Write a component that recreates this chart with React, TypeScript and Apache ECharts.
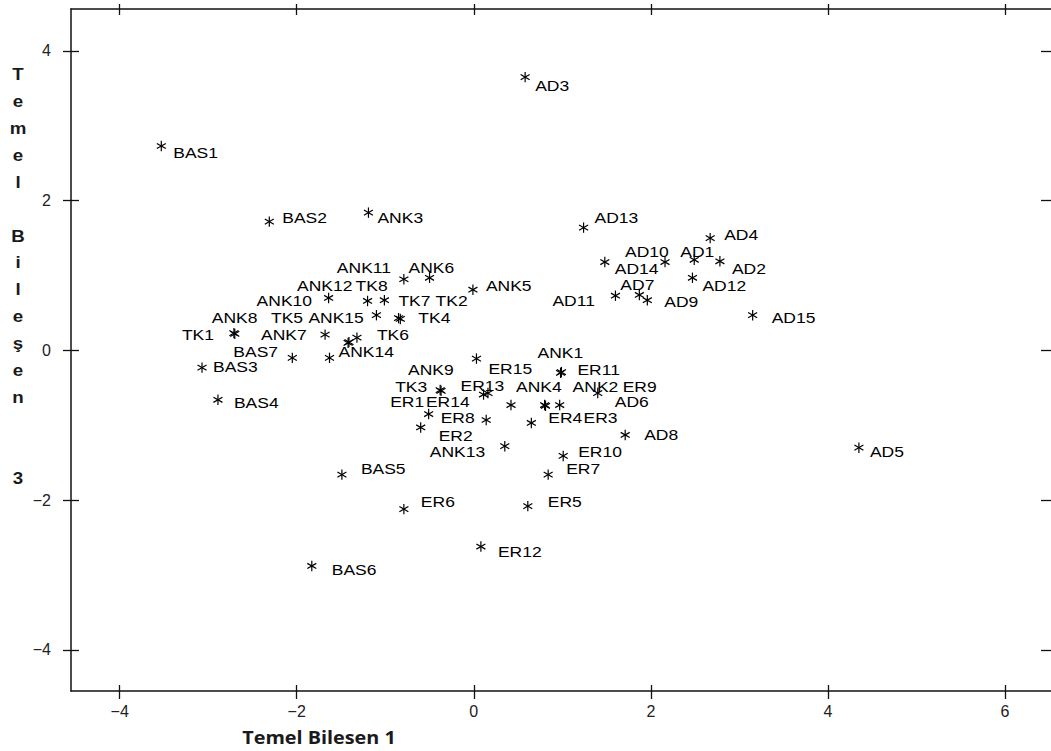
import React, { useEffect, useRef } from "react";
import * as echarts from "echarts";

// ---- data ----
const pointNames = [
  "BAS1", "BAS2", "BAS3", "BAS4", "BAS5", "BAS6", "BAS7",
  "TK1", "TK2", "TK3", "TK4", "TK5", "TK6", "TK7", "TK8",
  "ANK1", "ANK2", "ANK3", "ANK4", "ANK5", "ANK6", "ANK7", "ANK8", "ANK9", "ANK10", "ANK11", "ANK12", "ANK13", "ANK14", "ANK15",
  "AD1", "AD2", "AD3", "AD4", "AD5", "AD6", "AD7", "AD8", "AD9", "AD10", "AD11", "AD12", "AD13", "AD14", "AD15",
  "ER1", "ER2", "ER3", "ER4", "ER5", "ER6", "ER7", "ER8", "ER9", "ER10", "ER11", "ER12", "ER13", "ER14", "ER15",
];

// Temel Bilesen 1
const pc1 = [
  -3.53, -2.31, -3.07, -2.89, -1.49, -1.83, -2.05,
  -2.71, -0.85, -0.38, -0.83, -1.41, -1.32, -1.01, -1.20,
  0.98, 0.80, -1.19, 0.42, -0.01, -0.50, -1.68, -2.70, -0.37, -1.64, -0.79, -1.42, 0.35, -1.63, -1.10,
  2.49, 2.78, 0.58, 2.67, 4.35, 1.40, 1.87, 1.71, 1.96, 2.16, 1.60, 2.47, 1.24, 1.48, 3.15,
  0.14, -0.60, 0.81, 0.65, 0.61, -0.79, 0.84, -0.51, 0.97, 1.01, 0.99, 0.08, 0.11, 0.16, 0.03,
];

// Temel Bileşen 3
const pc3 = [
  2.73, 1.72, -0.23, -0.66, -1.66, -2.88, -0.10,
  0.23, 0.43, -0.53, 0.42, 0.11, 0.17, 0.67, 0.66,
  -0.30, -0.73, 1.84, -0.73, 0.81, 0.97, 0.21, 0.22, -0.54, 0.70, 0.95, 0.10, -1.28, -0.10, 0.47,
  1.21, 1.19, 3.65, 1.50, -1.30, -0.57, 0.74, -1.13, 0.67, 1.18, 0.73, 0.97, 1.64, 1.18, 0.47,
  -0.93, -1.03, -0.74, -0.97, -2.08, -2.12, -1.66, -0.85, -0.73, -1.41, -0.29, -2.62, -0.59, -0.57, -0.11,
];

const xTicks = [-4, -2, 0, 2, 4, 6];
const yTicks = [-4, -2, 0, 2, 4];

// label placement (pixel offsets from each marker), style only
const labelDx = [
  12, 13, 11, 16, 19, 20, -59,
  -52, 37, -45, 18, -78, 20, 14, -12,
  -23, 28, 9, 5, 13, -21, -64, -23, -33, -72, -67, -51, -75, 9, -68,
  -14, 12, 10, 14, 11, 17, -19, 19, 17, -40, -63, 10, 11, 10, 19,
  -96, 18, 38, 17, 20, 17, 18, 12, 63, 15, 16, 17, -23, -62, 12,
];
const labelDy = [
  7, -3, 0, 3, -6, 4, -6,
  2, -17, -3, -1, -24, -3, 1, -15,
  -20, -18, 6, -18, -4, -10, 0, -16, -21, 3, -11, -57, 6, -6, 3,
  -8, 8, 9, -3, 4, 9, -10, 0, 2, -10, 5, 8, -9, 7, 3,
  -18, 9, 12, -5, -4, -7, -6, 4, -18, -4, -2, 6, -8, 9, 11,
];

const X_MIN = -4.55;
const X_MAX = 6.52;
const Y_MIN = -4.55;
const Y_MAX = 4.56;

const fmt = (v: number) => (v < 0 ? "\u2212" + Math.abs(v) : String(v));
const AX = "#111";
const tickFont = '"Liberation Sans", Arial, sans-serif';

function xAxisDef(position: string, inside: boolean, len: number, showLine: boolean, showLabel: boolean) {
  return {
    type: "value",
    position,
    min: X_MIN,
    max: X_MAX,
    splitLine: { show: false },
    axisLine: { show: showLine, onZero: false, lineStyle: { color: AX, width: 1.5 } },
    axisTick: { show: true, inside, length: len, customValues: xTicks, lineStyle: { color: AX, width: 1.3 } },
    axisLabel: {
      show: showLabel,
      customValues: xTicks,
      formatter: fmt,
      margin: 12,
      fontSize: 16,
      color: "#222",
      fontFamily: tickFont,
    },
  };
}

function yAxisDef(position: string, inside: boolean, len: number, showLine: boolean, showLabel: boolean) {
  return {
    type: "value",
    position,
    min: Y_MIN,
    max: Y_MAX,
    splitLine: { show: false },
    axisLine: { show: showLine, onZero: false, lineStyle: { color: AX, width: 1.5 } },
    axisTick: { show: true, inside, length: len, customValues: yTicks, lineStyle: { color: AX, width: 1.3 } },
    axisLabel: {
      show: showLabel,
      customValues: yTicks,
      formatter: fmt,
      margin: 20,
      fontSize: 16,
      color: "#222",
      fontFamily: tickFont,
    },
  };
}

export default function App() {
  const ref = useRef<HTMLDivElement>(null);

  useEffect(() => {
    if (!ref.current) return;
    const chart = echarts.init(ref.current, undefined, { renderer: "svg" });
    const data = pc1.map((x, i) => ({ name: pointNames[i], value: [x, pc3[i]] }));

    chart.setOption({
      animation: false,
      backgroundColor: "#ffffff",
      grid: { left: 71, top: 9, width: 984, height: 682, containLabel: false },
      xAxis: [
        xAxisDef("bottom", false, 8, true, true),
        xAxisDef("bottom", true, 6, false, false),
        xAxisDef("top", false, 5, true, false),
        xAxisDef("top", true, 6, false, false),
      ],
      yAxis: [
        yAxisDef("left", false, 8, true, true),
        yAxisDef("left", true, 8, false, false),
        yAxisDef("right", true, 10, false, false),
      ],
      graphic: [
        {
          type: "text",
          x: 18,
          y: 61,
          style: {
            text: ["T", "e", "m", "e", "l", "", "B", "i", "l", "e", "ş", "e", "n", "", "", "3"].join("\n"),
            font: 'bold 17px "Liberation Sans", Arial, sans-serif',
            fill: "#1a1a1a",
            align: "center",
            verticalAlign: "top",
            lineHeight: 26.9,
          },
          scaleX: 1.1,
        },
        {
          type: "text",
          x: 319,
          y: 737,
          scaleX: 1.1,
          style: {
            text: "Temel Bilesen 1",
            font: 'bold 18px "Open Sans", "Noto Sans", sans-serif',
            fill: "#1a1a1a",
            align: "center",
            verticalAlign: "middle",
          },
        },
      ],
      series: [
        {
          type: "custom",
          xAxisIndex: 0,
          yAxisIndex: 0,
          clip: false,
          data,
          renderItem: (params: any, api: any) => {
            const i = params.dataIndex;
            const p = api.coord([api.value(0), api.value(1)]);
            const r = 5.2;
            const dx = 4.5;
            const dy = 2.6;
            const st = { stroke: "#000", lineWidth: 1.2 };
            return {
              type: "group",
              children: [
                { type: "line", shape: { x1: p[0], y1: p[1] - r, x2: p[0], y2: p[1] + r }, style: st },
                { type: "line", shape: { x1: p[0] - dx, y1: p[1] - dy, x2: p[0] + dx, y2: p[1] + dy }, style: st },
                { type: "line", shape: { x1: p[0] - dx, y1: p[1] + dy, x2: p[0] + dx, y2: p[1] - dy }, style: st },
                {
                  type: "text",
                  x: p[0] + labelDx[i],
                  y: p[1] + labelDy[i],
                  scaleX: 1.25,
                  style: {
                    text: pointNames[i],
                    fill: "#000",
                    font: '14px "Liberation Sans", Arial, sans-serif',
                    align: "left",
                    verticalAlign: "middle",
                  },
                },
              ],
            };
          },
        },
      ],
    });

    return () => chart.dispose();
  }, []);

  return (
    <div
      ref={ref}
      style={{ position: "absolute", left: 0, top: 0, width: 1051, height: 751, background: "#fff" }}
    />
  );
}
